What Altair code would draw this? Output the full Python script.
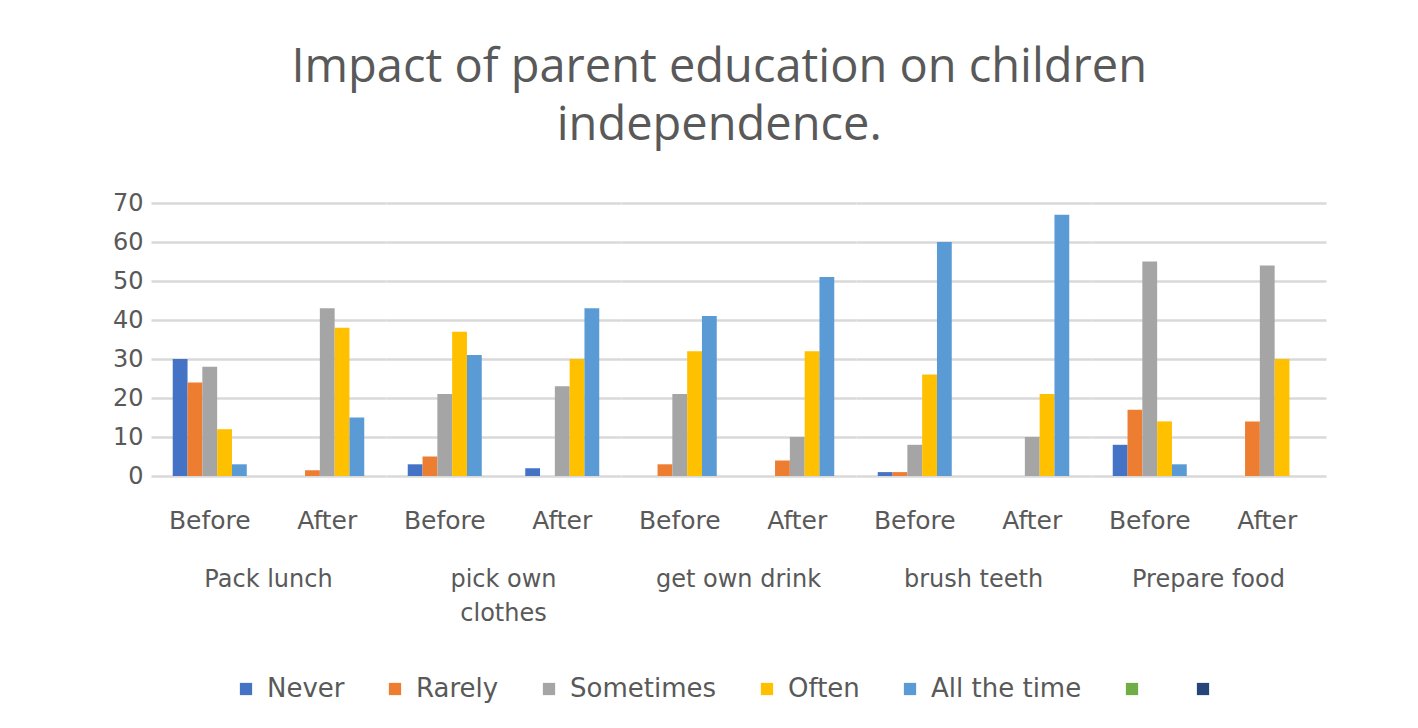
import altair as alt
import pandas as pd

tasks = ["Pack lunch", "pick own clothes", "get own drink", "brush teeth", "Prepare food"]
phases = ["Before", "After"]
series = ["Never", "Rarely", "Sometimes", "Often", "All the time"]
legend_extra = [" ", "  "]
colors = ["#4472C4", "#ED7D31", "#A5A5A5", "#FFC000", "#5B9BD5", "#70AD47", "#264478"]

# one value per (task, phase): Pack lunch B/A, pick own clothes B/A, ...
never = [30, 0, 3, 2, 0, 0, 1, 0, 8, 0]
rarely = [24, 1.5, 5, 0, 3, 4, 1, 0, 17, 14]
sometimes = [28, 43, 21, 23, 21, 10, 8, 10, 55, 54]
often = [12, 38, 37, 30, 32, 32, 26, 21, 14, 30]
all_time = [3, 15, 31, 43, 41, 51, 60, 67, 3, 0]

values = [never, rarely, sometimes, often, all_time]
rows = []
for s, vals in zip(series, values):
    for i, v in enumerate(vals):
        rows.append({"task": tasks[i // 2], "phase": phases[i % 2], "series": s, "value": v})
df = pd.DataFrame(rows)

TXT = "#595959"
FONT = "DejaVu Sans"

bars = alt.Chart(df).mark_bar().encode(
    x=alt.X("phase:N", sort=phases, title=None,
            scale=alt.Scale(paddingInner=0.37, paddingOuter=0.185),
            axis=alt.Axis(labelAngle=0, ticks=False, domain=False, grid=False, labelPadding=32,
                          labelFontSize=25, labelColor=TXT, labelFont=FONT)),
    xOffset=alt.XOffset("series:N", sort=series, scale=alt.Scale(domain=series, paddingInner=0)),
    y=alt.Y("value:Q", title=None,
            scale=alt.Scale(domain=[0, 70]),
            axis=alt.Axis(values=[0, 10, 20, 30, 40, 50, 60, 70], ticks=False, domain=False,
                          labelPadding=8, labelFontSize=24, labelColor=TXT, labelFont=FONT,
                          gridColor="#D9D9D9", gridWidth=2.5)),
    color=alt.Color("series:N", scale=alt.Scale(domain=series + legend_extra, range=colors),
                    legend=alt.Legend(title=None, orient="none", direction="horizontal",
                                      legendX=82, legendY=473,
                                      symbolType="square", symbolSize=150, symbolStrokeWidth=0,
                                      labelFontSize=26, labelColor=TXT, labelFont=FONT,
                                      columnPadding=37, symbolOffset=0, labelOffset=8)),
).properties(width=235, height=273)

chart = bars.facet(
    column=alt.Column("task:N", sort=tasks, title=None,
                      header=alt.Header(labelOrient="bottom", labelPadding=35,
                                        labelFontSize=24, labelColor=TXT, labelFont=FONT,
                                        labelLineHeight=34, labelBaseline="top",
                                        labelExpr="datum.value == 'pick own clothes' ? ['pick own', 'clothes'] : datum.value")),
    spacing=0,
).properties(
    title=alt.Title(["Impact of parent education on children", "independence."],
                    fontSize=47, font="Open Sans", fontWeight="normal", color=TXT,
                    lineHeight=58, anchor="middle", frame="bounds", offset=41),
    padding={"left": 112, "top": 44, "right": 10, "bottom": 10},
).configure_view(stroke="transparent", strokeWidth=0, strokeOpacity=0).configure(
    background="white", style={"cell": {"stroke": "transparent", "strokeWidth": 0}})

chart.save("out.html", embed_options={"renderer": "svg", "actions": False})
